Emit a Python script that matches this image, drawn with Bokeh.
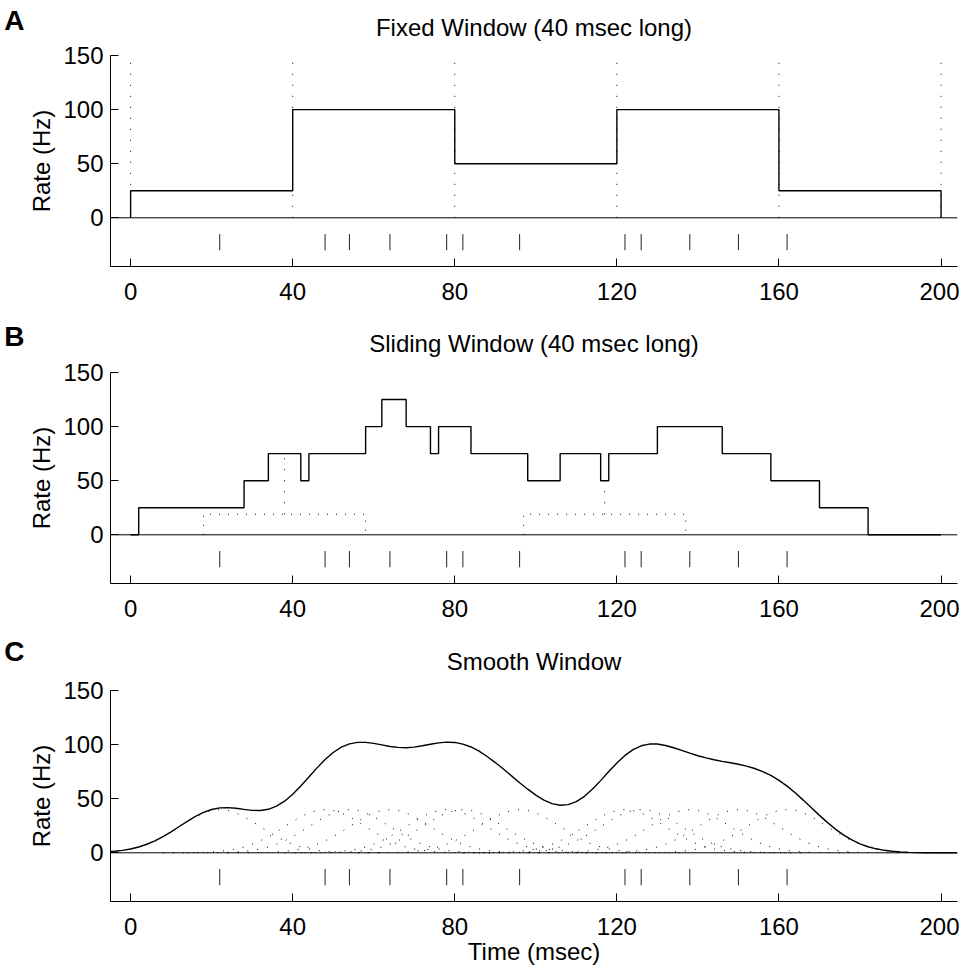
from bokeh.plotting import figure
from bokeh.models import Range1d, FixedTicker, Span, Label
from bokeh.layouts import column
from bokeh.embed import file_html
from bokeh.resources import INLINE

# ---------------- data ----------------
spike_times = [22, 48, 54, 64, 78, 82, 96, 122, 126, 138, 150, 162]

fixed_edges = [0, 40, 80, 120, 160, 200]
fixed_rates = [25, 100, 50, 100, 25]

sliding_edges = [0, 2, 28, 34, 42, 44, 58, 62, 68, 74, 76, 84, 98, 106, 116, 118,
                 130, 146, 158, 170, 182, 200]
sliding_rates = [0, 25, 50, 75, 50, 75, 100, 125, 100, 75, 100, 75, 50, 75, 50, 75,
                 100, 75, 50, 25, 0]

window_start = [18, 97]
window_end = [58, 137]
window_height = [19, 19]
window_center_rate = [75, 50]

kernel_offset = list(range(-40, 42, 2))
kernel_rate = [0.01, 0.03, 0.06, 0.12, 0.24, 0.44, 0.79, 1.36, 2.24, 3.55, 5.40,
               7.89, 11.09, 14.97, 19.42, 24.19, 28.97, 33.32, 36.82, 39.10, 39.89,
               39.10, 36.82, 33.32, 28.97, 24.19, 19.42, 14.97, 11.09, 7.89, 5.40,
               3.55, 2.24, 1.36, 0.79, 0.44, 0.24, 0.12, 0.06, 0.03, 0.01]

smooth_time = list(range(-6, 206, 2))
smooth_rate = [0.8, 1.4, 2.2, 3.5, 5.4, 7.9, 11.1, 15.0, 19.4, 24.3, 29.1, 33.6, 37.3,
               40.0, 41.5, 41.8, 41.2, 40.1, 39.2, 39.1, 40.2, 43.1, 47.7, 54.1, 61.8,
               70.1, 78.5, 86.2, 92.7, 97.6, 100.7, 102.1, 102.1, 101.1, 99.7, 98.3,
               97.4, 97.1, 97.7, 98.9, 100.3, 101.6, 102.3, 102.0, 100.5, 97.8, 93.9,
               89.0, 83.4, 77.4, 71.1, 64.8, 58.8, 53.3, 48.7, 45.5, 44.0, 44.5, 47.3,
               52.2, 58.9, 66.7, 75.1, 83.0, 90.0, 95.4, 98.9, 100.5, 100.5, 99.2,
               97.1, 94.6, 92.1, 89.7, 87.7, 86.0, 84.5, 83.2, 81.8, 80.1, 77.9, 75.1,
               71.5, 67.0, 61.6, 55.5, 48.7, 41.7, 34.6, 27.9, 21.7, 16.4, 11.9, 8.3,
               5.6, 3.7, 2.3, 1.4, 0.8, 0.4, 0.2, 0.1, 0.1, 0.0, 0.0, 0.0]

x_ticks = [0, 40, 80, 120, 160, 200]
y_ticks = [0, 50, 100, 150]
panel_titles = ["Fixed Window (40 msec long)", "Sliding Window (40 msec long)", "Smooth Window"]
panel_letters = ["A", "B", "C"]
x_label = "Time (msec)"
y_label = "Rate (Hz)"

FONT = "Liberation Sans"
W = 959
HEADER_H = 41
X0, X1 = -4.96, 204.06
Y0, Y1 = -45, 150


def step_path(edges, rates):
    xs, ys = [edges[0]], [0]
    for i, r in enumerate(rates):
        xs += [edges[i], edges[i + 1]]
        ys += [r, r]
    xs.append(edges[-1])
    ys.append(0)
    return xs, ys


def header_fig(letter, title, letter_y, title_y):
    # strip above a panel: y measured in pixels from its top edge
    q = figure(width=W, height=HEADER_H, output_backend="svg", toolbar_location=None,
               x_axis_type=None, title=None,
               x_range=Range1d(X0, X1), y_range=Range1d(HEADER_H, 0),
               min_border_left=110, min_border_right=2, min_border_top=0, min_border_bottom=0)
    q.outline_line_color = None
    q.grid.visible = False
    q.line([], [])
    ax = q.yaxis[0]
    ax.ticker = FixedTicker(ticks=[letter_y])
    ax.major_label_overrides = {letter_y: letter}
    ax.axis_line_color = None
    ax.major_tick_line_color = None
    ax.minor_tick_line_color = None
    ax.major_label_standoff = 80
    ax.major_label_text_font = FONT
    ax.major_label_text_font_size = "28px"
    ax.major_label_text_font_style = "bold"
    ax.major_label_text_color = "black"
    q.add_layout(Label(x=(X0 + X1) / 2, y=title_y, text=title, text_font=FONT,
                       text_font_size="24px", text_font_style="normal",
                       text_baseline="middle", text_align="center", text_color="black"))
    return q


def make_fig(height, top, bottom, xlabel=None):
    p = figure(width=W, height=height, output_backend="svg", toolbar_location=None,
               title=None, x_range=Range1d(X0, X1), y_range=Range1d(Y0, Y1),
               min_border_left=110, min_border_right=2, min_border_top=top,
               min_border_bottom=bottom)
    p.outline_line_color = None
    p.grid.visible = False
    for ax in (p.xaxis[0], p.yaxis[0]):
        ax.major_tick_in = 8
        ax.major_tick_out = 0
        ax.minor_tick_line_color = None
        ax.major_label_text_font = FONT
        ax.major_label_text_font_size = "24px"
        ax.major_label_text_color = "black"
        ax.axis_line_color = "black"
        ax.major_tick_line_color = "black"
        ax.axis_label_text_font = FONT
        ax.axis_label_text_font_size = "24px"
        ax.axis_label_text_font_style = "normal"
        ax.axis_label_text_color = "black"
    p.xaxis.ticker = FixedTicker(ticks=x_ticks)
    p.yaxis.ticker = FixedTicker(ticks=y_ticks)
    p.yaxis.axis_label = y_label
    p.yaxis.major_label_standoff = 7
    p.yaxis.axis_label_standoff = 5
    p.xaxis.major_label_standoff = 16
    if xlabel:
        p.xaxis.axis_label = xlabel
        p.xaxis.axis_label_standoff = 0
    # zero line
    p.add_layout(Span(location=0, dimension="width", line_color="black", line_width=1))
    # spike raster
    p.segment(x0=spike_times, y0=-15, x1=spike_times, y1=-30, line_color="#222222", line_width=1)
    return p


# ---- Panel A ----
pA = make_fig(317 - HEADER_H, 14, 51)
pA.segment(x0=fixed_edges, y0=0, x1=fixed_edges, y1=150, line_color="black",
           line_dash="1 10", line_width=1)
xa, ya = step_path(fixed_edges, fixed_rates)
pA.line(xa, ya, line_color="black", line_width=1.4)

# ---- Panel B ----
pB = make_fig(317 - HEADER_H, 14, 51)
for s, e, h, c in zip(window_start, window_end, window_height, window_center_rate):
    pB.line([s, s, e, e], [0, h, h, 0], line_color="black", line_dash="1 8", line_width=1)
    pB.line([(s + e) / 2, (s + e) / 2], [h, c], line_color="black", line_dash="1 10", line_width=1)
xb, yb = step_path(sliding_edges, sliding_rates)
pB.line(xb, yb, line_color="black", line_width=1.4)

# ---- Panel C ----
pC = make_fig(970 - 634 - HEADER_H, 15, 69, xlabel=x_label)
kxs = [[s + o for o in kernel_offset] for s in spike_times]
kys = [kernel_rate for _ in spike_times]
pC.multi_line(kxs, kys, line_color="black", line_dash="1 9", line_width=1)
pC.line(smooth_time, smooth_rate, line_color="black", line_width=1.4)

layout = column(
    header_fig(panel_letters[0], panel_titles[0], 20, 27), pA,
    header_fig(panel_letters[1], panel_titles[1], 19, 26), pB,
    header_fig(panel_letters[2], panel_titles[2], 14, 27), pC,
    spacing=0,
)
open("out.html", "w").write(file_html(layout, INLINE))
